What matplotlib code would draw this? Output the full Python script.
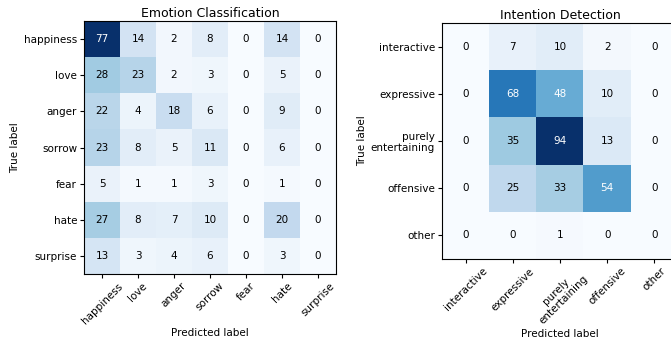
import numpy as np
import matplotlib
matplotlib.use("Agg")
import matplotlib.pyplot as plt

emotion_classes = ["happiness", "love", "anger", "sorrow", "fear", "hate", "surprise"]
emotion_cm = [
    [77, 14, 2, 8, 0, 14, 0],
    [28, 23, 2, 3, 0, 5, 0],
    [22, 4, 18, 6, 0, 9, 0],
    [23, 8, 5, 11, 0, 6, 0],
    [5, 1, 1, 3, 0, 1, 0],
    [27, 8, 7, 10, 0, 20, 0],
    [13, 3, 4, 6, 0, 3, 0],
]

intention_classes = ["interactive", "expressive", "purely\nentertaining", "offensive", "other"]
intention_cm = [
    [0, 7, 10, 2, 0],
    [0, 68, 48, 10, 0],
    [0, 35, 94, 13, 0],
    [0, 25, 33, 54, 0],
    [0, 0, 1, 0, 0],
]


def plot_confusion_matrix(ax, cm, classes, title):
    cm = np.array(cm)
    ax.imshow(cm, interpolation="nearest", cmap=plt.cm.Blues, aspect="auto")
    ax.set_title(title, fontsize=9, pad=3)
    ticks = np.arange(len(classes))
    ax.set_xticks(ticks)
    ax.set_xticklabels(classes, rotation=45, fontsize=7.5, linespacing=1.15)
    ax.set_yticks(ticks)
    ax.set_yticklabels(classes, fontsize=7.5, linespacing=1.15)
    ax.tick_params(length=3, pad=2)
    thresh = cm.max() / 2.0
    for i in range(cm.shape[0]):
        for j in range(cm.shape[1]):
            ax.text(j, i, format(cm[i, j], "d"), ha="center", va="center",
                    fontsize=7.5, color="white" if cm[i, j] > thresh else "black")
    ax.set_ylabel("True label", fontsize=7.5, labelpad=3)
    ax.set_xlabel("Predicted label", fontsize=7.5, labelpad=2)


fig = plt.figure(figsize=(6.71, 3.45), dpi=100)
ax1 = fig.add_axes([84 / 671, 71 / 345, 252 / 671, 253 / 345])
ax2 = fig.add_axes([442 / 671, 86 / 345, 236 / 671, 236 / 345])

plot_confusion_matrix(ax1, emotion_cm, emotion_classes, "Emotion Classification")
plot_confusion_matrix(ax2, intention_cm, intention_classes, "Intention Detection")

fig.savefig("out.png", dpi=100)
